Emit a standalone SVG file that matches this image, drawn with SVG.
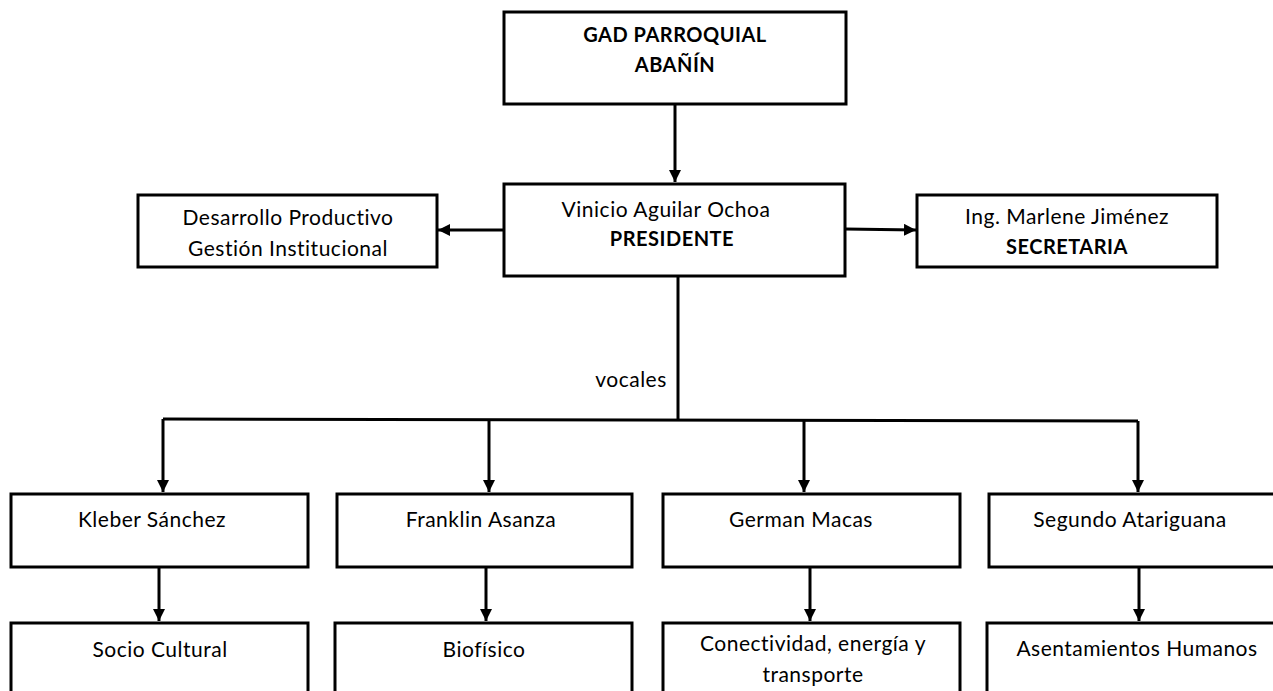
<svg xmlns="http://www.w3.org/2000/svg" width="1273" height="691" viewBox="0 0 1273 691">
<defs>
<style>
.box{fill:#fff;stroke:#000;stroke-width:3}
.con{fill:none;stroke:#000;stroke-width:3}
text{font-family:Lato,"Open Sans","Liberation Sans",sans-serif;font-size:21px;letter-spacing:0.5px;fill:#000;text-anchor:middle}
.b{font-weight:bold;font-size:20px}
</style>
<marker id="ah" markerUnits="userSpaceOnUse" markerWidth="12" markerHeight="12" refX="12" refY="6" orient="auto">
<path d="M0,0 L12,6 L0,12 z" fill="#000"/>
</marker>
</defs>
<rect width="1273" height="691" fill="#fff"/>
<g id="connectors">
<line class="con" x1="675" y1="104" x2="675" y2="182" marker-end="url(#ah)"/>
<line class="con" x1="504" y1="230" x2="438" y2="230" marker-end="url(#ah)"/>
<line class="con" x1="845" y1="229" x2="916" y2="230" marker-end="url(#ah)"/>
<line class="con" x1="678" y1="276" x2="678" y2="420"/>
<polyline class="con" points="163,419 1138,421"/>
<line class="con" x1="163" y1="419" x2="163" y2="492" marker-end="url(#ah)"/>
<line class="con" x1="489" y1="419" x2="489" y2="492" marker-end="url(#ah)"/>
<line class="con" x1="804" y1="420" x2="804" y2="492" marker-end="url(#ah)"/>
<line class="con" x1="1138" y1="421" x2="1138" y2="492" marker-end="url(#ah)"/>
<line class="con" x1="159" y1="567" x2="159" y2="621" marker-end="url(#ah)"/>
<line class="con" x1="486" y1="567" x2="486" y2="621" marker-end="url(#ah)"/>
<line class="con" x1="810" y1="567" x2="810" y2="621" marker-end="url(#ah)"/>
<line class="con" x1="1139" y1="567" x2="1139" y2="621" marker-end="url(#ah)"/>
<text x="631" y="387">vocales</text>
</g>
<g id="gad">
<rect class="box" x="504" y="12" width="342" height="92"/>
<text class="b" x="675" y="42">GAD PARROQUIAL</text>
<text class="b" x="675" y="72">ABAÑÍN</text>
</g>
<g id="presidente">
<rect class="box" x="504" y="184" width="341" height="92"/>
<text x="666" y="217">Vinicio Aguilar Ochoa</text>
<text class="b" x="672" y="246">PRESIDENTE</text>
</g>
<g id="desarrollo">
<rect class="box" x="138" y="195" width="299" height="72"/>
<text x="288" y="225">Desarrollo Productivo</text>
<text x="288" y="256">Gestión Institucional</text>
</g>
<g id="secretaria">
<rect class="box" x="917" y="195" width="300" height="72"/>
<text x="1067" y="224">Ing. Marlene Jiménez</text>
<text class="b" x="1067" y="254">SECRETARIA</text>
</g>
<g id="kleber">
<rect class="box" x="11" y="494" width="297" height="73"/>
<text x="152" y="527">Kleber Sánchez</text>
</g>
<g id="franklin">
<rect class="box" x="337" y="494" width="295" height="73"/>
<text x="481" y="527">Franklin Asanza</text>
</g>
<g id="german">
<rect class="box" x="663" y="494" width="297" height="73"/>
<text x="801" y="527">German Macas</text>
</g>
<g id="segundo">
<rect class="box" x="989" y="494" width="300" height="73"/>
<text x="1130" y="527">Segundo Atariguana</text>
</g>
<g id="socio">
<rect class="box" x="11" y="623" width="297" height="90"/>
<text x="160" y="657">Socio Cultural</text>
</g>
<g id="biofisico">
<rect class="box" x="335" y="623" width="297" height="90"/>
<text x="484" y="657">Biofísico</text>
</g>
<g id="conectividad">
<rect class="box" x="663" y="623" width="297" height="90"/>
<text x="813" y="651">Conectividad, energía y</text>
<text x="813" y="682">transporte</text>
</g>
<g id="asentamientos">
<rect class="box" x="987" y="623" width="300" height="90"/>
<text x="1137" y="656">Asentamientos Humanos</text>
</g>
</svg>
